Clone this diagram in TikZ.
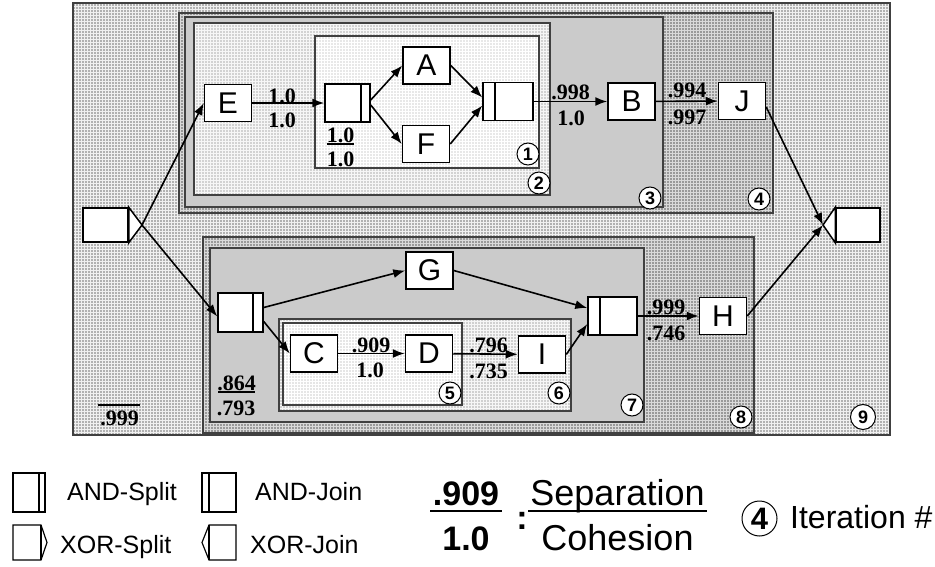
\documentclass[tikz,border=0pt]{standalone}
\usepackage{fontspec}
\setmainfont{Liberation Serif}
\setsansfont{Liberation Sans}
\usetikzlibrary{arrows.meta,patterns}
\definecolor{cnine}{HTML}{B1B1B1}
\definecolor{cfour}{HTML}{999999}
\definecolor{cthree}{HTML}{CBCBCB}
\definecolor{ctwo}{HTML}{D2D2D2}
\definecolor{cone}{HTML}{E8E8E8}
\definecolor{csix}{HTML}{D0D0D0}
\definecolor{cfive}{HTML}{E6E6E6}
\definecolor{bord}{HTML}{404040}
\begin{document}
\begin{tikzpicture}[x=1pt,y=-1pt,
  boxx/.style={fill=#1,draw=bord,line width=1.2pt},
  tex/.style={pattern=grid,pattern color=#1},
  task/.style={draw=black,fill=white,line width=1.5pt,minimum width=47pt,minimum height=37pt,inner sep=0pt,font=\sffamily\fontsize{30}{30}\selectfont},
  gate/.style={draw=black,fill=white,line width=1.5pt,minimum width=45pt,minimum height=38pt,inner sep=0pt},
  asplit/.style={gate,path picture={\draw[line width=1.5pt]([xshift=-#1]path picture bounding box.north east)--([xshift=-#1]path picture bounding box.south east);}},
  ajoin/.style={gate,path picture={\draw[line width=1.5pt]([xshift=#1]path picture bounding box.north west)--([xshift=#1]path picture bounding box.south west);}},
  arr/.style={line width=1.6pt,-{Latex[length=12pt,width=9pt]}},
  lab/.style={font=\bfseries\fontsize{22}{22}\selectfont,inner sep=0pt},
  numc/.style={circle,draw=black,fill=white,line width=1pt,inner sep=0pt,minimum size=22pt,font=\sffamily\bfseries\fontsize{18}{18}\selectfont},
  leg/.style={font=\sffamily\fontsize{25}{25}\selectfont,inner sep=0pt,anchor=base west},
  icon/.style={draw=black,fill=white,line width=1.2pt},
  frac/.style={line width=1.5pt}
]
\useasboundingbox (0,0) rectangle (935,567);
\fill[white] (0,0) rectangle (935,567);

% regions
\path[boxx=cnine] (73,3) rectangle (890,435);
\path[tex=white!88!gray] (73,3) rectangle (890,435);
\path[boxx=cfour] (179,13) rectangle (773,213);
\path[tex=white!70!gray] (179,13) rectangle (773,213);
\path[boxx=cthree] (185,17) rectangle (663,207);
\path[boxx=ctwo] (194,23) rectangle (550,195);
\path[tex=white!93!gray] (194,23) rectangle (550,195);
\path[boxx=cone] (315,36) rectangle (539,168);
\path[tex=white] (315,36) rectangle (539,168);
\path[boxx=cfour] (203,237) rectangle (754,433);
\path[tex=white!70!gray] (203,237) rectangle (754,433);
\path[boxx=cthree] (210,248) rectangle (644,422);
\path[boxx=csix] (279,319) rectangle (571,411);
\path[tex=white!93!gray] (279,319) rectangle (571,411);
\path[boxx=cfive] (283,323) rectangle (462,405);
\path[tex=white] (283,323) rectangle (462,405);
\draw[bord,line width=1.2pt] (73,3) rectangle (890,435)
  (179,13) rectangle (773,213) (185,17) rectangle (663,207)
  (194,23) rectangle (550,195) (315,36) rectangle (539,168)
  (203,237) rectangle (754,433) (210,248) rectangle (644,422)
  (279,319) rectangle (571,411) (283,323) rectangle (462,405);

% iteration numbers
\node[numc] (n1) at (528,154) {1};
\node[numc] (n2) at (539,183) {2};
\node[numc] (n3) at (650,198) {3};
\node[numc] (n4) at (759,199) {4};
\node[numc] (n5) at (450,393) {5};
\node[numc] (n6) at (559,393) {6};
\node[numc] (n7) at (632,405) {7};
\node[numc] (n8) at (741,417) {8};
\node[numc,minimum size=25pt] (n9) at (863,417) {9};

% XOR split / join
\node[gate,minimum width=45pt,minimum height=34pt] (xs) at (105.5,225) {};
\coordinate (xst) at (142,225);
\draw[line width=1.5pt,fill=white] (xs.north east) -- (xst) -- (xs.south east) -- cycle;
\node[gate,minimum width=44pt,minimum height=34pt] (xj) at (858,225) {};
\coordinate (xjt) at (823,225);
\draw[line width=1.5pt,fill=white] (xj.north west) -- (xjt) -- (xj.south west) -- cycle;

% upper nodes
\node[task] (E) at (228,103) {E};
\node[asplit=9pt] (s1) at (347.5,103) {};
\node[task] (A) at (426.5,65.5) {A};
\node[task] (F) at (426,144) {F};
\node[ajoin=12pt,minimum width=50pt] (j1) at (508,101.5) {};
\node[task] (B) at (631.5,101.5) {B};
\node[task] (J) at (742,101) {J};

% lower nodes
\node[asplit=10pt,minimum height=39pt] (s2) at (240.5,312.5) {};
\node[task] (G) at (429.5,270.5) {G};
\node[task] (C) at (314,353.5) {C};
\node[task] (D) at (429,353.5) {D};
\node[task] (I) at (542,354.5) {I};
\node[ajoin=12pt,minimum width=49pt] (j2) at (612.5,316) {};
\node[task] (H) at (723,316) {H};

% connectors
\draw[arr] (xst) -- (E.west);
\draw[arr] (xst) -- ([yshift=-4pt]s2.west);
\draw[arr] (E) -- (s1);
\draw[arr] ([yshift=3pt]s1.east) -- (A.west);
\draw[arr] ([yshift=-2pt]s1.east) -- (F.west);
\draw[arr] (A.east) -- ([yshift=4pt]j1.west);
\draw[arr] (F.east) -- ([yshift=-4pt]j1.west);
\draw[arr] (j1) -- (B);
\draw[arr] (B) -- (J);
\draw[arr] ([yshift=-6pt]J.east) -- (xjt);
\draw[arr] ([yshift=5pt]s2.east) -- (G.west);
\draw[arr] ([yshift=-9pt]s2.east) -- (C.west);
\draw[arr] (G.east) -- ([yshift=8pt]j2.west);
\draw[arr] (I.east) -- ([yshift=-8pt]j2.west);
\draw[arr] (C) -- (D);
\draw[arr] (D) -- (I);
\draw[arr] (j2) -- (H);
\draw[arr] (H.east) -- (xjt);

% separation / cohesion labels
\node[lab] (l1a) at (282,96) {1.0};
\node[lab] (l1b) at (282,120) {1.0};
\node[lab] (l2a) at (340.5,135) {1.0};
\draw[frac] (327,144) -- (354,144);
\node[lab] (l2b) at (340.5,159) {1.0};
\node[lab] (l3a) at (570.5,92) {.998};
\node[lab] (l3b) at (571,118) {1.0};
\node[lab] (l4a) at (687,90) {.994};
\node[lab] (l4b) at (687,117) {.997};
\node[lab] (l5a) at (371,345) {.909};
\node[lab] (l5b) at (370,370) {1.0};
\node[lab] (l6a) at (488.5,345) {.796};
\node[lab] (l6b) at (488.5,371) {.735};
\node[lab] (l7a) at (666,307) {.999};
\node[lab] (l7b) at (666,333) {.746};
\node[lab] (l8a) at (236.5,383) {.864};
\draw[frac] (218,392) -- (255,392);
\node[lab] (l8b) at (236,408) {.793};
\draw[frac] (98,405) -- (140,405);
\node[lab] (l9b) at (119.5,418) {.999};

% legend
\draw[icon] (13,473) rectangle (45,512);
\draw[icon] (39,473) -- (39,512);
\node[leg] (tas) at (67,500) {AND-Split};
\draw[icon] (202,473) rectangle (236,512);
\draw[icon] (209,473) -- (209,512);
\node[leg] (taj) at (255,500) {AND-Join};
\draw[icon] (13,525) -- (41,525) -- (47,542.5) -- (41,560) -- (13,560) -- cycle;
\draw[icon] (41,525) -- (41,560);
\node[leg] (txs) at (60,553) {XOR-Split};
\draw[icon] (236,525) -- (209,525) -- (202,542.5) -- (209,560) -- (236,560) -- cycle;
\draw[icon] (209,525) -- (209,560);
\node[leg] (txj) at (250,553) {XOR-Join};

\node[font=\sffamily\bfseries\fontsize{34}{34}\selectfont,inner sep=0pt,anchor=base] (ksep) at (466,505) {.909};
\draw[frac] (430,511) -- (502,511);
\node[font=\sffamily\bfseries\fontsize{34}{34}\selectfont,inner sep=0pt,anchor=base] (kcoh) at (466,550) {1.0};
\node[font=\sffamily\bfseries\fontsize{34}{34}\selectfont,inner sep=0pt,anchor=base] (kcol) at (522,529) {:};
\node[font=\sffamily\fontsize{36}{36}\selectfont,inner sep=0pt,anchor=base] (tsep) at (617.5,505) {Separation};
\draw[frac] (528,511) -- (707,511);
\node[font=\sffamily\fontsize{36}{36}\selectfont,inner sep=0pt,anchor=base] (tcoh) at (617.5,550) {Cohesion};

\node[circle,draw=black,line width=1pt,inner sep=0pt,minimum size=35pt,font=\sffamily\bfseries\fontsize{31}{31}\selectfont] (kit) at (759.5,518.5) {4};
\node[font=\sffamily\fontsize{32}{32}\selectfont,inner sep=0pt,anchor=base west] (tit) at (790,528) {Iteration \#};
\end{tikzpicture}
\end{document}
